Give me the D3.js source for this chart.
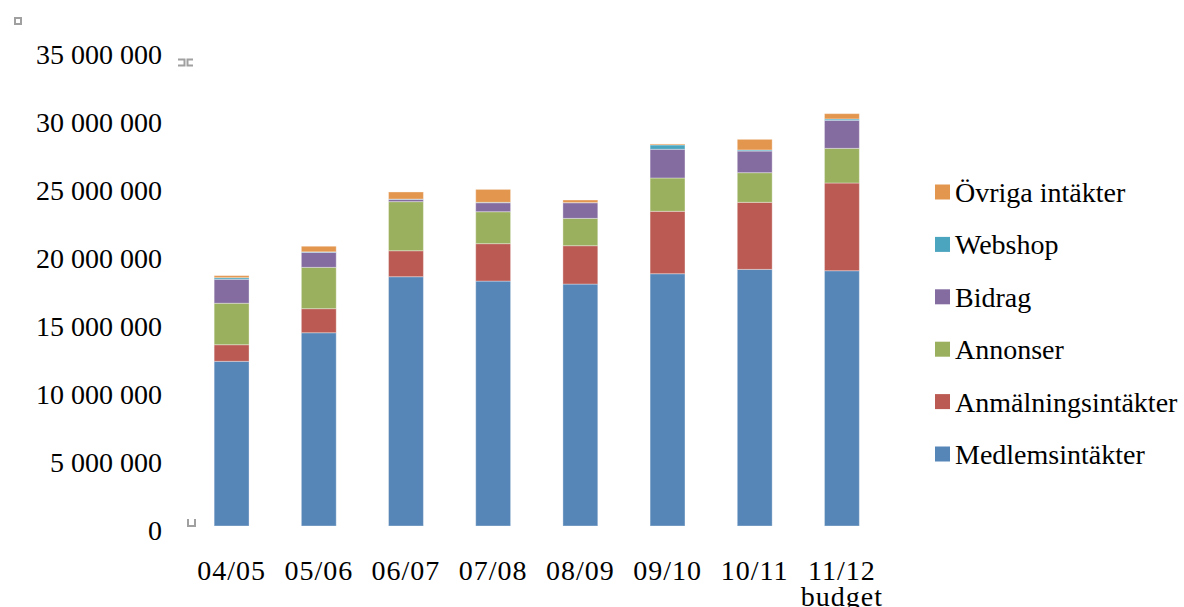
<!DOCTYPE html>
<html>
<head>
<meta charset="utf-8">
<script src="https://cdn.jsdelivr.net/npm/d3@7"></script>
<style>
  html, body { margin: 0; padding: 0; background: #fff; }
  svg { display: block; }
  text { font-family: "Liberation Serif", "DejaVu Serif", serif; fill: #000; }
</style>
</head>
<body>
<svg id="chart" width="1184" height="607"></svg>
<script>
// ---- data (values in SEK) ----
const categories = ["04/05", "05/06", "06/07", "07/08", "08/09", "09/10", "10/11", "11/12\nbudget"];
const seriesNames = ["Medlemsintäkter", "Anmälningsintäkter", "Annonser", "Bidrag", "Webshop", "Övriga intäkter"];
const medlemsintakter   = [12110000, 14210000, 18330000, 18010000, 17790000, 18550000, 18870000, 18770000];
const anmalningsintakter = [1220000, 1770000, 1910000, 2750000, 2820000, 4590000, 4930000, 6450000];
const annonser          = [3050000, 3040000, 3610000, 2350000, 2010000, 2450000, 2180000, 2550000];
const bidrag            = [1760000, 1100000, 170000, 660000, 1150000, 2110000, 1590000, 2060000];
const webshop           = [120000, 40000, 20000, 30000, 10000, 320000, 80000, 100000];
const ovriga            = [150000, 410000, 520000, 950000, 190000, 70000, 780000, 390000];
const yTicks = [0, 5000000, 10000000, 15000000, 20000000, 25000000, 30000000, 35000000];
const colors = ["#5685B7", "#BA5A52", "#9BB05E", "#846CA0", "#4BA5BE", "#E3964E"];

const seriesValues = [medlemsintakter, anmalningsintakter, annonser, bidrag, webshop, ovriga];
const table = categories.map((c, i) => {
  const row = { cat: c };
  seriesNames.forEach((s, j) => row[s] = seriesValues[j][i]);
  return row;
});

const svg = d3.select("#chart");
const x = d3.scaleBand().domain(categories).range([188, 885.5]).paddingInner(0.6).paddingOuter(0.3);
const y = d3.scaleLinear().domain([0, 35000000]).range([526, 50]);

const locale = d3.formatLocale({ decimal: ",", thousands: " ", grouping: [3], currency: ["", ""] });
const fmt = locale.format(",d");

// y axis
const yAxis = svg.append("g").attr("transform", "translate(162,0)")
  .call(d3.axisLeft(y).tickValues(yTicks).tickSize(0).tickPadding(0).tickFormat(fmt));
yAxis.select(".domain").remove();
yAxis.selectAll("text")
  .style("font-family", '"Liberation Serif", serif')
  .style("font-size", "28px")
  .attr("fill", "#000")
  .attr("dy", "0.47em");

// stacked bars
const stack = d3.stack().keys(seriesNames);
const stacked = stack(table);
svg.append("g").selectAll("g").data(stacked).join("g")
  .attr("fill", (d, i) => colors[i])
  .selectAll("rect").data(d => d).join("rect")
  .attr("x", d => x(d.data.cat))
  .attr("width", x.bandwidth())
  .attr("y", d => y(d[1]))
  .attr("height", d => Math.max(0, y(d[0]) - y(d[1])))
  .attr("stroke", "rgba(255,255,255,0.35)")
  .attr("stroke-width", 1);

// x labels
const xl = svg.append("g");
categories.forEach(c => {
  const lines = c.split("\n");
  const cx = x(c) + x.bandwidth() / 2;
  lines.forEach((ln, k) => {
    xl.append("text")
      .attr("x", cx)
      .attr("y", 580 + k * 26)
      .attr("text-anchor", "middle")
      .style("font-size", "28px")
      .style("letter-spacing", "1px")
      .text(ln);
  });
});

// legend (reverse order)
const legendNames = seriesNames.slice().reverse();
const legend = svg.append("g");
legendNames.forEach((n, k) => {
  const idx = seriesNames.indexOf(n);
  const cy = 192 + k * 52.4;
  legend.append("rect").attr("x", 935).attr("y", cy - 7.5).attr("width", 15).attr("height", 15).attr("fill", colors[idx]);
  legend.append("text").attr("x", 955).attr("y", cy + 10).style("font-size", "28px").text(n);
});

// small gray marker glyphs
const g = svg.append("g").attr("fill", "none").attr("stroke", "#a0a0a0").attr("stroke-width", 2);
g.append("rect").attr("x", 15).attr("y", 18).attr("width", 6).attr("height", 6);
g.append("path").attr("d", "M178,59.5 H184.5 V65.5 H178 M193,59.5 H187.5 V65.5 H193");
g.append("path").attr("d", "M188,519 V526 H195 V519");
</script>
</body>
</html>
